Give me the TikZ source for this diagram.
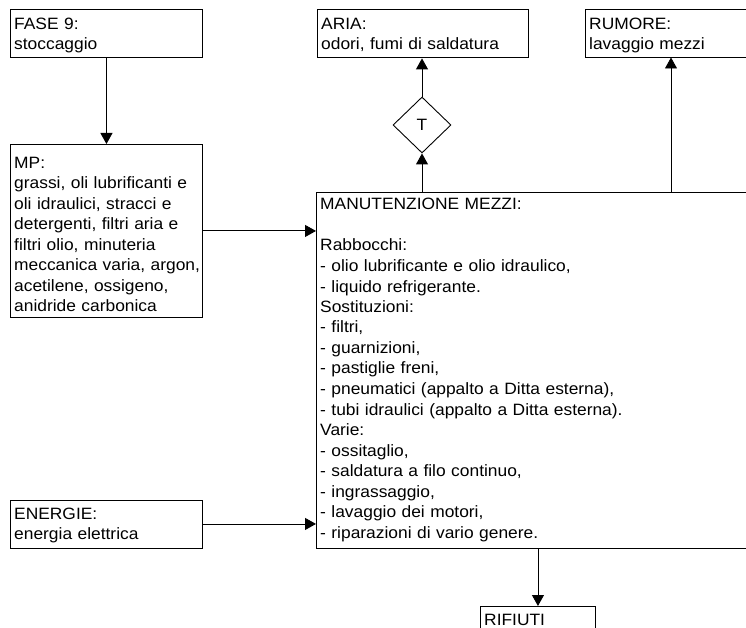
\documentclass[tikz,border=0pt]{standalone}
\usepackage{fontspec}
\setmainfont[FakeStretch=1.06]{Liberation Sans}
\usetikzlibrary{arrows.meta,shapes.geometric}
\begin{document}
\begin{tikzpicture}[x=1pt,y=-1pt,
  box/.style={draw=black, line width=0.9pt, rectangle, anchor=north west, inner sep=0pt},
  txt/.style={anchor=base west, inner sep=0pt, text width=430pt, align=left,
              font=\fontsize{16.4}{20.5}\selectfont},
  flow/.style={draw=black, line width=0.9pt, -{Triangle[length=11pt,width=12pt]}},
]
\useasboundingbox (0,0) rectangle (746,628);
\clip (0,0) rectangle (746,628);

% boxes
\node[box, minimum width=192pt, minimum height=48pt]  (fase)    at (10,9.5)   {};
\node[box, minimum width=211pt, minimum height=48pt]  (aria)    at (317,9.5)  {};
\node[box, minimum width=160.5pt, minimum height=48pt] (rumore) at (585,9.5)  {};
\node[box, minimum width=192pt, minimum height=173pt] (mp)      at (10,144)   {};
\node[box, minimum width=470pt, minimum height=356pt] (manut)   at (316,192)  {};
\node[box, minimum width=192pt, minimum height=48pt]  (energie) at (10,499.5) {};
\node[box, minimum width=115pt, minimum height=60pt]  (rifiuti) at (480,606)  {};
\node[draw=black, line width=0.9pt, diamond, minimum width=58pt, minimum height=56pt,
      inner sep=0pt, font=\fontsize{16.4}{20.5}\selectfont] (tee) at (422,125) {T};

% texts
\node[txt] (fase-t) at ([shift={(4,20)}]fase.north west) {FASE 9:\\stoccaggio};
\node[txt] (aria-t) at ([shift={(4,20)}]aria.north west) {ARIA:\\odori, fumi di saldatura};
\node[txt] (rumore-t) at ([shift={(4,20)}]rumore.north west) {RUMORE:\\lavaggio mezzi};
\node[txt] (mp-t) at ([shift={(4,24.5)}]mp.north west)
  {MP:\\grassi, oli lubrificanti e\\oli idraulici, stracci e\\detergenti, filtri aria e\\filtri olio, minuteria\\meccanica varia, argon,\\acetilene, ossigeno,\\anidride carbonica};
\node[txt] (manut-t) at ([shift={(4,18)}]manut.north west)
  {MANUTENZIONE MEZZI:\\ \mbox{}\\
   Rabbocchi:\\
   - olio lubrificante e olio idraulico,\\
   - liquido refrigerante.\\
   Sostituzioni:\\
   - filtri,\\
   - guarnizioni,\\
   - pastiglie freni,\\
   - pneumatici (appalto a Ditta esterna),\\
   - tubi idraulici (appalto a Ditta esterna).\\
   Varie:\\
   - ossitaglio,\\
   - saldatura a filo continuo,\\
   - ingrassaggio,\\
   - lavaggio dei motori,\\
   - riparazioni di vario genere.};
\node[txt] (energie-t) at ([shift={(4,19.5)}]energie.north west) {ENERGIE:\\energia elettrica};
\node[txt] (rifiuti-t) at ([shift={(4,19.5)}]rifiuti.north west) {RIFIUTI};

% connectors
\coordinate (rumore-in) at (671,57.5);
\draw[flow] (fase.south) -- (mp.north);
\draw[flow] (mp.east) -- (mp.east -| manut.west);
\draw[flow] (energie.east) -- (energie.east -| manut.west);
\draw[flow] (tee.south |- manut.north) -- (tee.south);
\draw[flow] (tee.north) -- (tee.north |- aria.south);
\draw[flow] (rumore-in |- manut.north) -- (rumore-in);
\draw[flow] (rifiuti.north |- manut.south) -- (rifiuti.north);
\end{tikzpicture}
\end{document}
